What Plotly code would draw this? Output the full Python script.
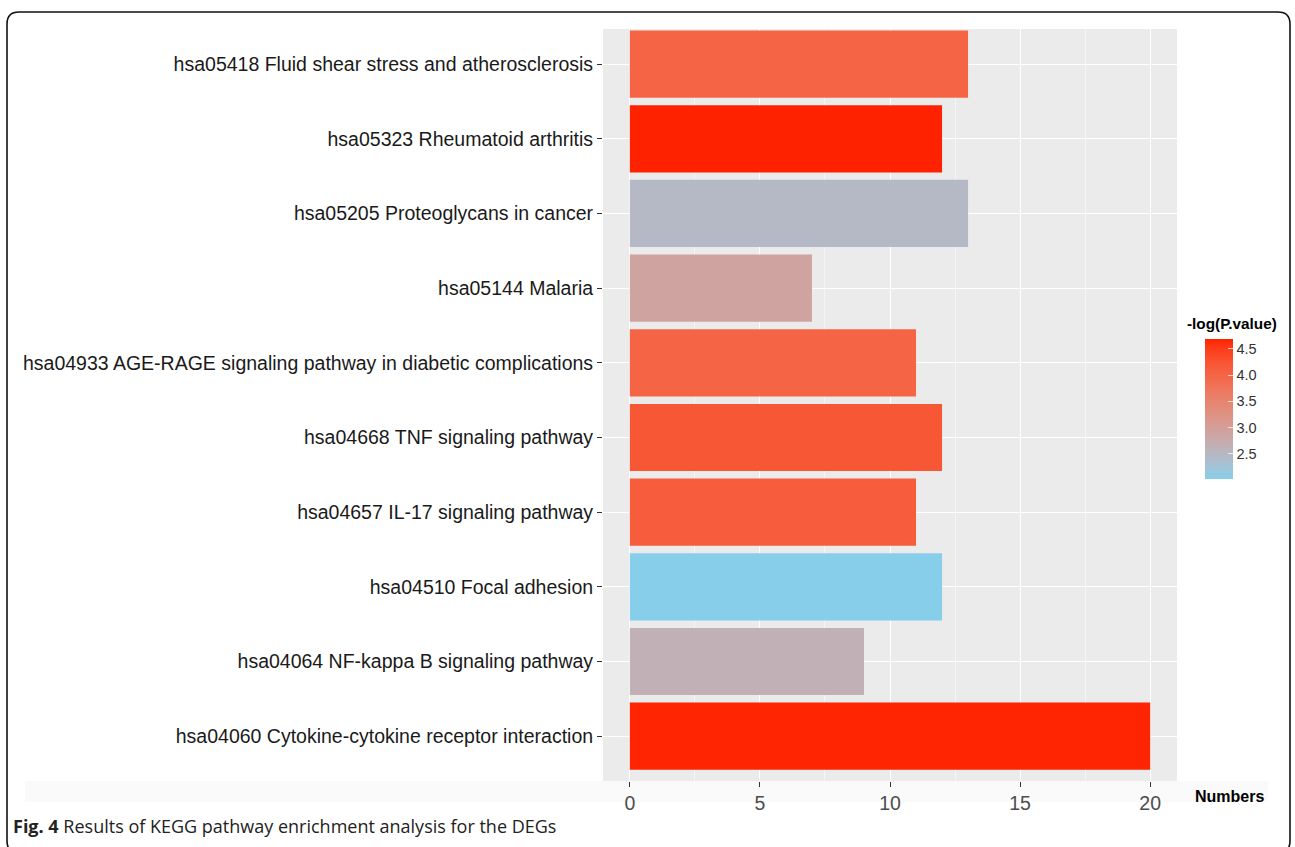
import plotly.graph_objects as go

# ---------------- data ----------------
pathways = [
    "hsa04060 Cytokine-cytokine receptor interaction",
    "hsa04064 NF-kappa B signaling pathway",
    "hsa04510 Focal adhesion",
    "hsa04657 IL-17 signaling pathway",
    "hsa04668 TNF signaling pathway",
    "hsa04933 AGE-RAGE signaling pathway in diabetic complications",
    "hsa05144 Malaria",
    "hsa05205 Proteoglycans in cancer",
    "hsa05323 Rheumatoid arthritis",
    "hsa05418 Fluid shear stress and atherosclerosis",
]
numbers = [20, 9, 12, 11, 12, 11, 7, 13, 12, 13]
neglogp = [4.68, 2.65, 2.02, 4.13, 4.21, 4.02, 2.90, 2.47, 4.69, 4.02]
x_ticks = [0, 5, 10, 15, 20]
cbar_ticks = [2.5, 3.0, 3.5, 4.0, 4.5]
cbar_labels = ["2.5", "3.0", "3.5", "4.0", "4.5"]

# ---------------- Lab gradient (like ggplot scale_fill_gradient) ----------------
def srgb_to_lin(c):
    c = c / 255.0
    return c / 12.92 if c <= 0.04045 else ((c + 0.055) / 1.055) ** 2.4

def lin_to_srgb(c):
    c = max(0.0, min(1.0, c))
    v = 12.92 * c if c <= 0.0031308 else 1.055 * c ** (1 / 2.4) - 0.055
    return int(round(max(0, min(1, v)) * 255))

WX, WY, WZ = 0.95047, 1.0, 1.08883

def f(t):
    return t ** (1 / 3) if t > 0.008856 else 7.787 * t + 16 / 116

def finv(t):
    return t ** 3 if t ** 3 > 0.008856 else (t - 16 / 116) / 7.787

def rgb_to_lab(rgb):
    r, g, b = [srgb_to_lin(v) for v in rgb]
    X = 0.4124 * r + 0.3576 * g + 0.1805 * b
    Y = 0.2126 * r + 0.7152 * g + 0.0722 * b
    Z = 0.0193 * r + 0.1192 * g + 0.9505 * b
    fx, fy, fz = f(X / WX), f(Y / WY), f(Z / WZ)
    return (116 * fy - 16, 500 * (fx - fy), 200 * (fy - fz))

def lab_to_rgb(lab):
    L, a, b = lab
    fy = (L + 16) / 116
    fx = fy + a / 500
    fz = fy - b / 200
    X, Y, Z = WX * finv(fx), WY * finv(fy), WZ * finv(fz)
    r = 3.2406 * X - 1.5372 * Y - 0.4986 * Z
    g = -0.9689 * X + 1.8758 * Y + 0.0415 * Z
    bb = 0.0557 * X - 0.2040 * Y + 1.0570 * Z
    return "rgb(%d,%d,%d)" % (lin_to_srgb(r), lin_to_srgb(g), lin_to_srgb(bb))

low = rgb_to_lab((135, 206, 235))   # skyblue
high = rgb_to_lab((255, 34, 0))     # red
N = 24
colorscale = []
for i in range(N + 1):
    t = i / N
    lab = tuple(low[k] + (high[k] - low[k]) * t for k in range(3))
    colorscale.append([t, lab_to_rgb(lab)])

# ---------------- layout geometry (pixels) ----------------
W, H = 1295, 847
PL, PR, PT, PB = 603, 1177, 29, 781

def px(xp):
    return (xp - PL) / (PR - PL)

def py(yp):
    return (PB - yp) / (PB - PT)

fig = go.Figure()
fig.add_trace(go.Bar(
    y=pathways, x=numbers, orientation="h", width=0.9,
    marker=dict(color=neglogp, coloraxis="coloraxis", line=dict(width=0)),
    hovertemplate="%{y}<br>%{x}<extra></extra>",
))

# rounded outer border (bottom edge falls just below the visible page)
r = 12
x0, x1, y0, y1 = 7, 1290, 12, 853
path = (f"M {px(x0 + r)} {py(y0)} L {px(x1 - r)} {py(y0)} "
        f"Q {px(x1)} {py(y0)} {px(x1)} {py(y0 + r)} "
        f"L {px(x1)} {py(y1 - r)} Q {px(x1)} {py(y1)} {px(x1 - r)} {py(y1)} "
        f"L {px(x0 + r)} {py(y1)} Q {px(x0)} {py(y1)} {px(x0)} {py(y1 - r)} "
        f"L {px(x0)} {py(y0 + r)} Q {px(x0)} {py(y0)} {px(x0 + r)} {py(y0)} Z")

shapes = [
    dict(type="rect", xref="paper", yref="paper", x0=px(25), x1=px(1268),
         y0=py(802), y1=py(781), fillcolor="#FAFAFA", line=dict(width=0), layer="below"),
    dict(type="path", xref="paper", yref="paper", path=path,
         line=dict(color="#111111", width=1.6), fillcolor="rgba(0,0,0,0)"),
]

annotations = [
    dict(text="<b>Numbers</b>", xref="paper", yref="paper", x=px(1193), y=py(796),
         xanchor="left", yanchor="middle", showarrow=False,
         font=dict(family="Liberation Sans, Arial", size=16, color="#000")),
    dict(text="<b>-log(P.value)</b>", xref="paper", yref="paper", x=px(1185), y=py(323),
         xanchor="left", yanchor="middle", showarrow=False,
         font=dict(family="Liberation Sans, Arial", size=15.3, color="#000")),
    dict(text="<b>Fig. 4</b> Results of KEGG pathway enrichment analysis for the DEGs",
         xref="paper", yref="paper", x=px(11), y=py(826), xanchor="left", yanchor="middle",
         showarrow=False, font=dict(family="Open Sans", size=18, color="#222")),
]

fig.update_layout(
    width=W, height=H,
    margin=dict(l=PL, r=W - PR, t=PT, b=H - PB, pad=0),
    paper_bgcolor="white", plot_bgcolor="#EBEBEB",
    showlegend=False, bargap=0.1,
    font=dict(family="Liberation Sans, Arial", color="#222"),
    coloraxis=dict(
        cmin=2.02, cmax=4.69, colorscale=colorscale,
        colorbar=dict(
            x=px(1205), xanchor="left", xpad=0,
            y=py(409), yanchor="middle", ypad=0,
            len=140, lenmode="pixels", thickness=28, thicknessmode="pixels",
            outlinewidth=0, tickvals=cbar_ticks, ticktext=cbar_labels,
            ticks="inside", ticklen=5, tickcolor="rgba(255,255,255,0.7)",
            tickfont=dict(family="Liberation Sans, Arial", size=14.5, color="#333333"),
            title=dict(text=""),
        ),
    ),
    xaxis=dict(
        range=[-1.03, 21.03], tickvals=x_ticks, showgrid=True, gridcolor="white", gridwidth=1.4,
        zeroline=False, ticks="outside", ticklen=5, tickcolor="#333", tickwidth=1,
        tickfont=dict(family="Liberation Sans, Arial", size=19.5, color="#4D4D4D"),
        minor=dict(tickvals=[2.5, 7.5, 12.5, 17.5], showgrid=True, gridcolor="#F5F5F5",
                   gridwidth=0.8, ticks=""),
        showline=False, fixedrange=True,
    ),
    yaxis=dict(
        categoryorder="array", categoryarray=pathways, range=[-0.6, 9.47],
        showgrid=True, gridcolor="white", gridwidth=1.4, ticks="outside", ticklen=5,
        tickcolor="#333", tickwidth=1,
        tickfont=dict(family="Liberation Sans, Arial", size=19.5, color="#1A1A1A"),
        showline=False, fixedrange=True,
    ),
    shapes=shapes, annotations=annotations,
)

fig.write_html(
    "out.html",
    config={"displayModeBar": False},
    post_script="document.body.style.margin='0px';document.body.style.overflow='hidden';",
)
